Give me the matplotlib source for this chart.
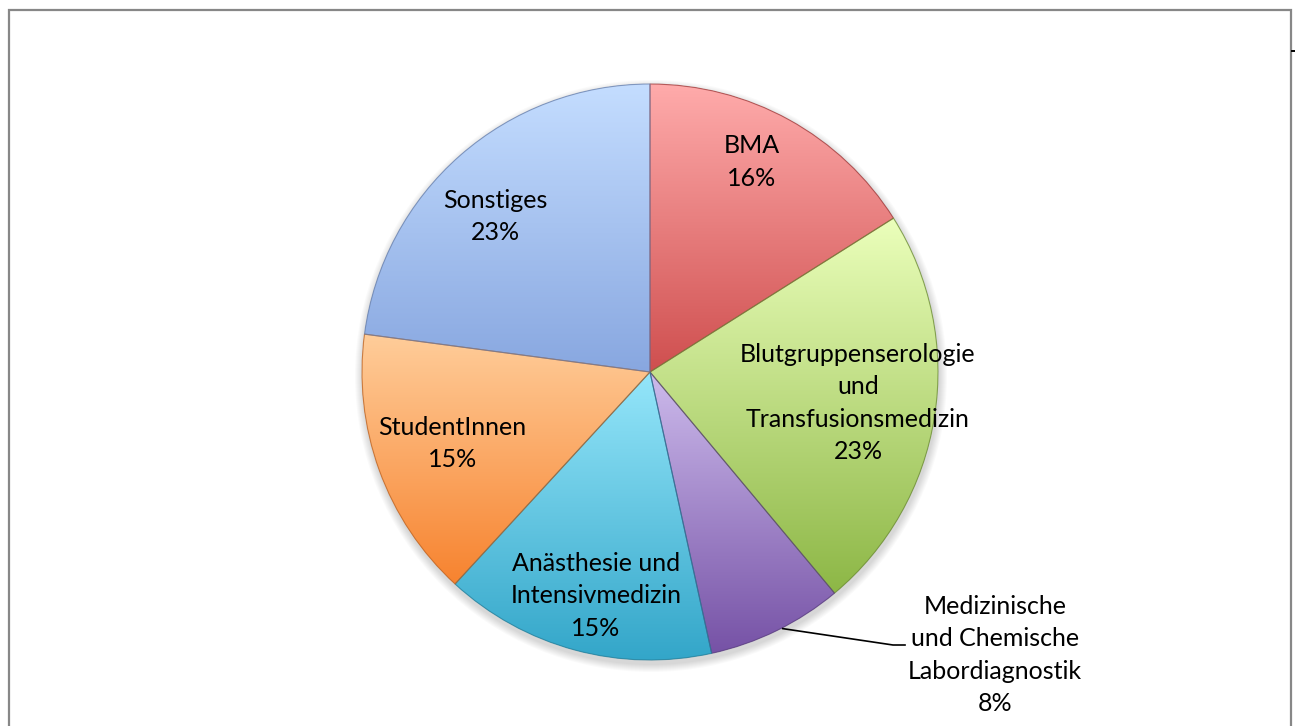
import numpy as np
import matplotlib.pyplot as plt
from matplotlib.colors import LinearSegmentedColormap, to_rgb
from matplotlib.patches import Circle, Wedge

# data (clockwise from 12 o'clock)
labels = ['BMA',
          'Blutgruppenserologie\nund\nTransfusionsmedizin',
          'Medizinische\nund Chemische\nLabordiagnostik',
          'Anästhesie und\nIntensivmedizin',
          'StudentInnen',
          'Sonstiges']
counts = [21, 30, 10, 20, 20, 30]

top_colors = ['#ffabab', '#ebffbb', '#cdbbec', '#95e6fa', '#ffcd9a', '#c4ddff']
bottom_colors = ['#cf4f4f', '#8db746', '#7652a6', '#33a6c9', '#f7832f', '#88a7e0']
# label placement: fraction of radius and angle nudge (deg)
label_dist = [0.81, 0.73, None, 0.80, 0.73, 0.76]
label_nudge = [3.0, 0.5, 0, 1.5, 0, 3.6]

plt.rcParams['font.family'] = ['Lato', 'DejaVu Sans']

W, H = 1295, 726
fig = plt.figure(figsize=(W / 100, H / 100), dpi=100)
ax = fig.add_axes([0, 0, 1, 1])

cx, cy, r = 650, 354, 288

# soft shadow under the pie
for k in range(8):
    ax.add_patch(Circle((cx + 1, cy - 4), r + 1 + k, color='black',
                        alpha=0.018, lw=0, zorder=0))

wedges, _ = ax.pie(counts, startangle=90, counterclock=False,
                   center=(cx, cy), radius=r, colors=bottom_colors,
                   wedgeprops=dict(linewidth=0), frame=True)

for w, c0, c1 in zip(wedges, top_colors, bottom_colors):
    bb = w.get_path().get_extents()
    cmap = LinearSegmentedColormap.from_list('g', [c1, c0])
    im = ax.imshow(np.linspace(0, 1, 256).reshape(-1, 1), cmap=cmap,
                   extent=[bb.x0, bb.x1, bb.y0, bb.y1], origin='lower',
                   interpolation='bilinear', zorder=2)
    im.set_clip_path(w)
    # bevel-ish edge
    dark = tuple(np.array(to_rgb(c1)) * 0.75)
    ax.add_patch(Wedge((cx, cy), r, w.theta1, w.theta2, facecolor='none',
                       edgecolor=dark, lw=0.8, alpha=0.7, zorder=3))

fs, ls = 18, 1.5
total = sum(counts)
for w, lab, n, d, nd in zip(wedges, labels, counts, label_dist, label_nudge):
    txt = f'{lab}\n{round(100 * n / total)}%'
    mid = np.deg2rad((w.theta1 + w.theta2) / 2 + nd)
    if d is not None:
        ax.text(cx + d * r * np.cos(mid), cy + d * r * np.sin(mid), txt,
                ha='center', va='center', fontsize=fs, linespacing=ls,
                zorder=5)
    else:
        ex, ey = cx + r * np.cos(mid), cy + r * np.sin(mid)
        tx, ty = 995, 71
        ax.plot([ex + 6, tx - 102, tx - 90], [ey + 2, ty + 10, ty + 10],
                color='black', lw=1.2, zorder=5)
        ax.text(tx, ty, txt, ha='center', va='center', fontsize=fs,
                linespacing=ls, zorder=5)

# outer frame
ax.plot([9, 9, 1291, 1291], [-5, 716, 716, -5], color='#878787', lw=1.6,
        zorder=6, solid_joinstyle='miter')
ax.plot([1292, 1296], [675, 675], color='black', lw=1.4, zorder=6)

ax.set_xlim(0, W)
ax.set_ylim(0, H)
ax.set_aspect('equal')
ax.axis('off')

fig.savefig('out.png', dpi=100)
